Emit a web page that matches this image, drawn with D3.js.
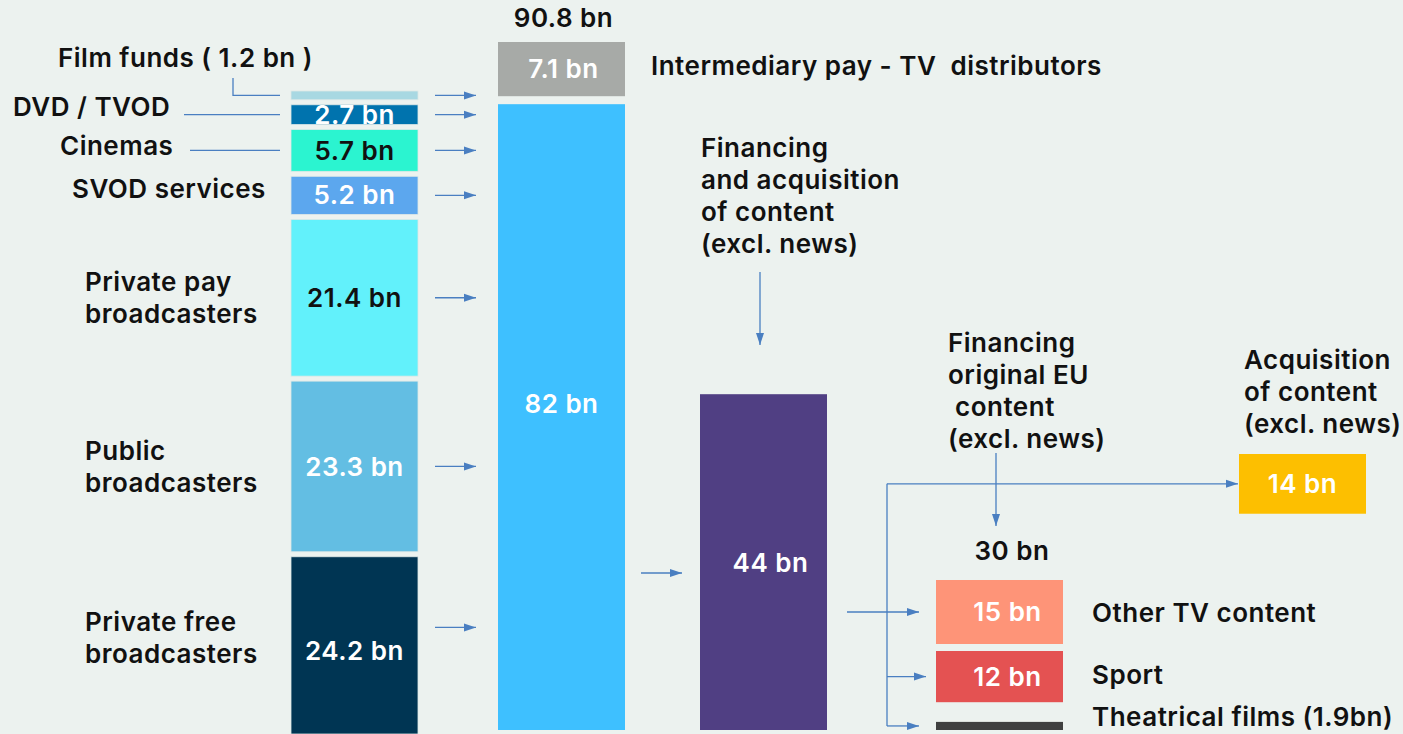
<!DOCTYPE html>
<html>
<head>
<meta charset="utf-8">
<script src="https://cdn.jsdelivr.net/npm/d3@7"></script>
<style>
  body { margin: 0; background: #ecf2ef; }
  svg { display: block; }
  text { font-family: Inter, "Open Sans", sans-serif; font-weight: 600; font-size: 26px; letter-spacing: 0.5px; fill: #111; white-space: pre; }
</style>
</head>
<body>
<div id="chart"></div>
<script>
// revenue sources (left stack, top to bottom)
let sources = ["Film funds", "DVD / TVOD", "Cinemas", "SVOD services", "Private pay broadcasters", "Public broadcasters", "Private free broadcasters"]
let sourceValues = [1.2, 2.7, 5.7, 5.2, 21.4, 23.3, 24.2]
let sourceLabels = ["", "2.7 bn", "5.7 bn", "5.2 bn", "21.4 bn", "23.3 bn", "24.2 bn"]
let sourceColors = ["#a8d8e2", "#0073ae", "#2bf4d0", "#5ca7ee", "#62f1fb", "#63bee3", "#003553"]
let sourceTextColors = ["#fff", "#fff", "#111", "#fff", "#111", "#fff", "#fff"]

// middle column
let totalLabel = "90.8 bn"
let midNames = ["Intermediary pay - TV  distributors", "Broadcasters and services"]
let midValues = [7.1, 82]
let midLabels = ["7.1 bn", "82 bn"]
let midColors = ["#a7aaa7", "#3ec0ff"]

let contentValue = 44
let contentLabel = "44 bn"

// spending on content
let acquisitionValue = 14
let originalTotal = "30 bn"
let originalNames = ["Other TV content", "Sport", "Theatrical films (1.9bn)"]
let originalValues = [15, 12, 1.9]
let originalLabels = ["15 bn", "12 bn", ""]
let originalColors = ["#fe9478", "#e45252", "#3f4040"]

let W = 1403, H = 734
let svg = d3.select("#chart").append("svg")
  .attr("width", W)
  .attr("height", H)

let arrowColor = "#4a7fc1"
svg.append("defs").append("marker")
  .attr("id", "head")
  .attr("viewBox", "0 0 12 10")
  .attr("refX", 12).attr("refY", 5)
  .attr("markerWidth", 12).attr("markerHeight", 10)
  .attr("markerUnits", "userSpaceOnUse")
  .attr("orient", "auto")
  .append("path").attr("d", "M0,1L12,5L0,9Z").attr("fill", arrowColor)

function line(pts, head) {
  let p = svg.append("path")
    .attr("d", d3.line()(pts))
    .attr("fill", "none")
    .attr("stroke", arrowColor)
    .attr("stroke-width", 1.3)
  if (head) p.attr("marker-end", "url(#head)")
  return p
}

function label(x, y, lines, anchor, color) {
  let t = svg.append("text")
    .attr("x", x).attr("y", y)
    .attr("text-anchor", anchor || "start")
    .style("fill", color || "#111")
  lines.forEach((s, i) => {
    t.append("tspan").attr("x", x).attr("dy", i == 0 ? "0.35em" : 32).text(s)
  })
  return t
}

// ---------- left stack ----------
let barW = 127
let leftX = 291, gap = 5
let leftTop = 91, leftBottom = 734
let yL = d3.scaleLinear()
  .domain([0, d3.sum(sourceValues)])
  .range([0, leftBottom - leftTop - gap * (sourceValues.length - 1)])

let leftData = []
let acc = leftTop
sourceValues.forEach((v, i) => {
  leftData.push({ y: acc, h: yL(v), i: i })
  acc += yL(v) + gap
})

svg.selectAll(".src").data(leftData).enter()
  .append("rect")
  .attr("x", leftX).attr("y", d => d.y)
  .attr("width", barW).attr("height", d => d.h)
  .attr("fill", d => sourceColors[d.i])
  .attr("stroke", "#dde8e6").attr("stroke-width", 0.8)

// bottom segment runs off the page, so its label/arrow sit a bit higher
let mid = i => leftData[i].y + leftData[i].h / 2 - (i == 6 ? 18 : 0)

leftData.forEach(d => {
  if (sourceLabels[d.i]) label(leftX + barW / 2, mid(d.i) + (d.i == 6 ? 24 : 0), [sourceLabels[d.i]], "middle", sourceTextColors[d.i])
  line([[435, mid(d.i)], [476, mid(d.i)]], true)
})

// source names
label(58, 58, ["Film funds ( 1.2 bn )"])
line([[233, 78], [233, mid(0)], [280, mid(0)]])
label(13, 107, ["DVD / TVOD"])
line([[184, mid(1)], [280, mid(1)]])
label(60, 146, ["Cinemas"])
line([[190, mid(2)], [280, mid(2)]])
label(72, 189, ["SVOD services"])
label(85, mid(4) - 16, ["Private pay", "broadcasters"])
label(85, mid(5) - 16, ["Public", "broadcasters"])
label(85, mid(6) - 5, ["Private free", "broadcasters"])

// ---------- middle column ----------
let midX = 498, midGap = 8, midBottom = 730
let yM = d3.scaleLinear()
  .domain([0, d3.sum(midValues)])
  .range([0, midBottom - 42 - midGap])

let hMain = yM(midValues[1]), hInt = yM(midValues[0])
let mainTop = midBottom - hMain
let intTop = mainTop - midGap - hInt
let midData = [{ y: intTop, h: hInt, i: 0 }, { y: mainTop, h: hMain, i: 1 }]

svg.selectAll(".mid").data(midData).enter()
  .append("rect")
  .attr("x", midX).attr("y", d => d.y)
  .attr("width", barW).attr("height", d => d.h)
  .attr("fill", d => midColors[d.i])

label(midX + barW / 2 + 2, intTop + hInt / 2, [midLabels[0]], "middle", "#fff")
label(midX + barW / 2, 404, [midLabels[1]], "middle", "#fff")
label(midX + barW / 2 + 2, 18, [totalLabel], "middle")
label(651, intTop + hInt / 2 - 3, [midNames[0]])

// ---------- content spending ----------
let conX = 700
let hCon = yM(contentValue)
let conTop = midBottom - hCon
svg.append("rect")
  .attr("x", conX).attr("y", conTop)
  .attr("width", barW).attr("height", hCon)
  .attr("fill", "#503f83")
label(conX + barW / 2 + 7, 563, [contentLabel], "middle", "#fff")
line([[641, 573], [682, 573]], true)

label(701, 148, ["Financing", "and acquisition", "of content", "(excl. news)"])
line([[760, 272], [760, 345]], true)

// ---------- right side ----------
let yR = d3.scaleLinear().domain([0, 15]).range([0, 64])

let acqX = 1239, acqTop = 454
svg.append("rect")
  .attr("x", acqX).attr("y", acqTop)
  .attr("width", barW).attr("height", yR(acquisitionValue))
  .attr("fill", "#fdbf00")
label(acqX + barW / 2, acqTop + yR(acquisitionValue) / 2, [acquisitionValue + " bn"], "middle", "#fff")
label(1244, 360, ["Acquisition", "of content", "(excl. news)"])

let orX = 936
let orTops = [580, 651, 730 - yR(originalValues[2])]
let orData = originalValues.map((v, i) => ({ y: orTops[i], h: yR(v), i: i }))
svg.selectAll(".orig").data(orData).enter()
  .append("rect")
  .attr("x", orX).attr("y", d => d.y)
  .attr("width", barW).attr("height", d => d.h)
  .attr("fill", d => originalColors[d.i])

orData.forEach(d => {
  if (originalLabels[d.i]) label(orX + barW / 2 + 8, d.y + d.h / 2, [originalLabels[d.i]], "middle", "#fff")
})
label(1092, 613, [originalNames[0]])
label(1092, 675, [originalNames[1]])
label(1092, 717, [originalNames[2]])
label(1012, 551, [originalTotal], "middle")

label(948, 343, ["Financing", "original EU", " content", "(excl. news)"])
line([[996, 453], [996, 526]], true)

// connectors from the content bar
let trunkX = 887
let acqY = acqTop + yR(acquisitionValue) / 2
let orCenters = orData.map(d => d.y + d.h / 2)
line([[847, orCenters[0]], [orX - 17, orCenters[0]]], true)
line([[trunkX, acqY], [trunkX, orCenters[2]]])
line([[trunkX, acqY], [acqX - 1, acqY]], true)
line([[trunkX, orCenters[1]], [orX - 10, orCenters[1]]], true)
line([[trunkX, orCenters[2]], [orX - 17, orCenters[2]]], true)
</script>
</body>
</html>
